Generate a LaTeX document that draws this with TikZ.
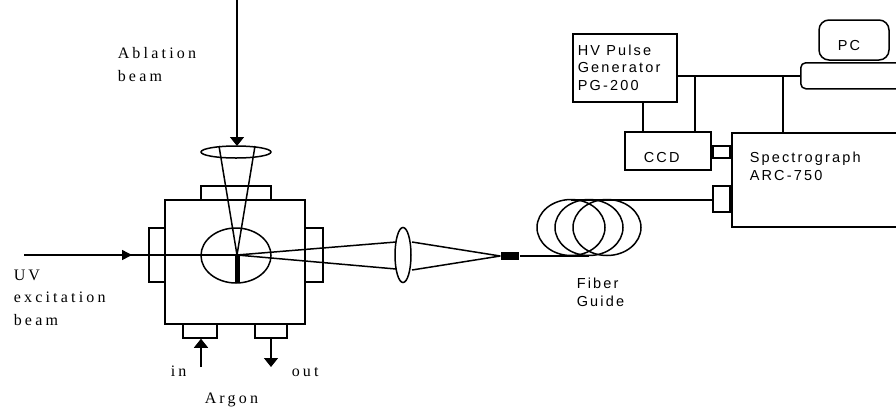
\documentclass[tikz,border=0pt]{standalone}
\usepackage{fontspec}
\newfontfamily\ser[LetterSpace=20]{Liberation Serif}
\newfontfamily\san[LetterSpace=15]{Liberation Sans}
\usetikzlibrary{arrows.meta,shapes.geometric}
\tikzset{
  x=1pt,y=-1pt,
  every path/.style={line width=1.5pt},
  bx/.style={draw,inner sep=0pt,rectangle},
  ell/.style={draw,ellipse,inner sep=0pt},
  serlab/.style={inner sep=0pt,align=left,anchor=base west,font=\ser\fontsize{16}{22.5}\selectfont},
  sanlab/.style={inner sep=0pt,align=left,anchor=base west,font=\san\fontsize{14.5}{17.5}\selectfont},
  tip/.style={-{Triangle[length=9pt,width=14pt]}},
  tipb/.style={-{Triangle[length=10pt,width=10pt]}}
}
\begin{document}
\begin{tikzpicture}
\useasboundingbox (0,0) rectangle (896,408);
% chamber
\node[bx,minimum width=140pt,minimum height=124pt] (chamber) at (235,262) {};
\node[bx,minimum width=70pt,minimum height=14pt] (topfl) at (236,193) {};
\node[bx,minimum width=16pt,minimum height=54pt] (leftfl) at (157,255) {};
\node[bx,minimum width=18pt,minimum height=54pt] (rightfl) at (314,255) {};
\node[bx,minimum width=34pt,minimum height=14pt] (portin) at (200,331) {};
\node[bx,minimum width=32pt,minimum height=14pt] (portout) at (271,331) {};
\node[ell,minimum width=70pt,minimum height=55pt] (cell) at (236,255.5) {};
\node[ell,minimum width=70pt,minimum height=12pt] (lensa) at (236,152) {};
\node[ell,minimum width=16pt,minimum height=55pt] (lensb) at (403,255) {};
\node[fill=black,inner sep=0pt,minimum width=5pt,minimum height=27pt] (target) at (237,269.5) {};
\coordinate (focus) at (237,255);
\coordinate (abl) at (237,0);
\coordinate (uv) at (24,255);
% beams
\draw[tip] (abl) -- (237,146);
\draw (focus) -- (219,146);
\draw (focus) -- (255,146);
\draw (uv) -- (focus);
\draw[tipb] (uv) -- (132,255);
\draw (focus) -- (396,242);
\draw (focus) -- (396,269);
% fibre
\node[fill=black,inner sep=0pt,minimum width=18pt,minimum height=8pt] (ferrule) at (510,256) {};
\draw (412,242) -- (ferrule.west);
\draw (412,270) -- (ferrule.west);
\node[ell,minimum width=68pt,minimum height=56pt] (c1) at (571,227.5) {};
\node[ell,minimum width=68pt,minimum height=56pt] (c2) at (589,227.5) {};
\node[ell,minimum width=68pt,minimum height=56pt] (c3) at (607,227.5) {};
\draw (ferrule.east) -- (589,256);
% instruments
\node[bx,anchor=north west,minimum width=170pt,minimum height=94pt] (spec) at (731,132) {};
\node[bx,minimum width=86pt,minimum height=38pt] (ccd) at (668,151) {};
\node[bx,minimum width=17pt,minimum height=12pt] (cpa) at (721.5,152) {};
\node[bx,minimum width=17pt,minimum height=26pt] (cpb) at (721.5,199) {};
\node[bx,minimum width=104pt,minimum height=68pt] (hv) at (625,68) {};
\node[draw,rounded corners=10pt,inner sep=0pt,minimum width=70pt,minimum height=40pt] (pc) at (854,40) {};
\node[draw,rounded corners=5pt,inner sep=0pt,anchor=north west,minimum width=120pt,minimum height=26pt] (kb) at (800,62) {};
\draw (571,200) -- (cpb.west |- 571,200);
\draw (hv.east |- 0,76) -- (kb.west |- 0,76);
\draw (hv.south -| 643,0) -- (ccd.north -| 643,0);
\draw (695,76) -- (ccd.north -| 695,0);
\draw (783,76) -- (spec.north -| 783,0);
% gas
\draw[tip] (201,367) -- (portin.south -| 201,0);
\draw[tip] (portout.south -| 271,0) -- (271,367);
% text
\node[serlab] (t1) at (117,81) {Ablation\\beam};
\node[serlab] (t2) at (13,325) {UV\\excitation\\beam};
\node[serlab] (t3) at (170,376) {in};
\node[serlab] (t4) at (291,376) {out};
\node[serlab] (t5) at (204,403) {Argon};
\node[sanlab] (t6) at (577,90) {HV Pulse\\Generator\\PG-200};
\node[sanlab] (t7) at (643,162) {CCD};
\node[sanlab] (t8) at (837,50) {PC};
\node[sanlab] (t9) at (749,180) {Spectrograph\\ARC-750};
\node[sanlab] (t10) at (576,306) {Fiber\\Guide};
\end{tikzpicture}
\end{document}
